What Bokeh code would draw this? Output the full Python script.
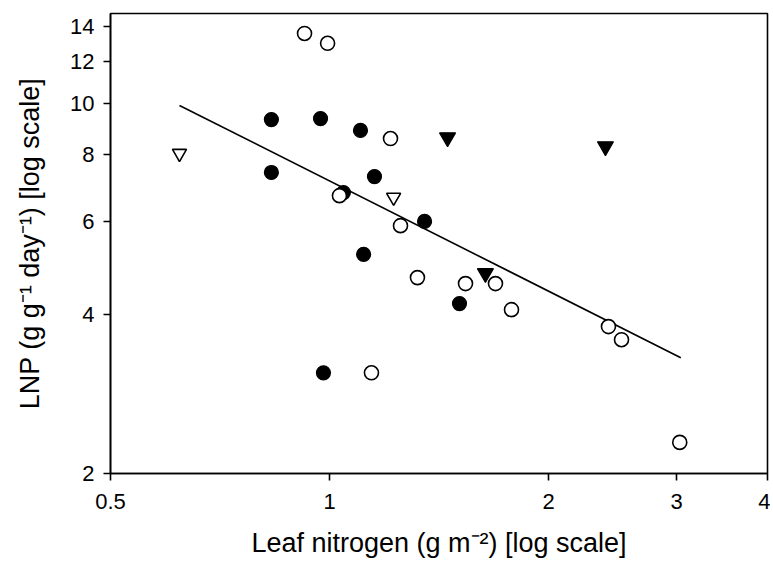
from bokeh.plotting import figure
from bokeh.models import Range1d, FixedTicker
from bokeh.embed import file_html
from bokeh.resources import INLINE

# ---- data ----
x_ticks = [0.5, 1, 2, 3, 4]
x_tick_labels = ["0.5", "1", "2", "3", "4"]
y_ticks = [2, 4, 6, 8, 10, 12, 14]
y_tick_labels = ["2", "4", "6", "8", "10", "12", "14"]

# open circles
oc_n = [0.924, 0.994, 1.213, 1.032, 1.252, 1.321, 1.538, 1.691, 1.779, 2.418, 2.52, 1.142, 3.03]
oc_lnp = [13.57, 13.0, 8.59, 6.70, 5.88, 4.69, 4.57, 4.57, 4.08, 3.79, 3.58, 3.10, 2.29]
# filled circles
fc_n = [0.832, 0.972, 1.103, 0.832, 1.153, 1.045, 1.351, 1.114, 1.509, 0.981]
fc_lnp = [9.33, 9.37, 8.90, 7.41, 7.28, 6.79, 5.99, 5.19, 4.19, 3.10]
# open down-triangles
ot_n = [0.622, 1.225]
ot_lnp = [8.05, 6.65]
# filled down-triangles
ft_n = [1.453, 2.395, 1.638]
ft_lnp = [8.63, 8.30, 4.78]
# regression line end points
fit_n = [0.622, 3.04]
fit_lnp = [9.92, 3.31]

x_title = "Leaf nitrogen (g m\u207b\u00b2) [log scale]"
y_title = "LNP (g g\u207b\u00b9 day\u207b\u00b9) [log scale]"

FONT = "Liberation Sans"

p = figure(width=770, height=560, x_axis_type="log", y_axis_type="log",
           x_range=Range1d(0.5, 4), y_range=Range1d(2, 14.8),
           output_backend="svg", toolbar_location=None,
           min_border_left=110, min_border_right=3,
           min_border_top=13, min_border_bottom=87)

p.grid.visible = False
p.outline_line_color = "black"
p.outline_line_width = 1.6
p.background_fill_color = "white"
p.border_fill_color = "white"

p.xaxis.ticker = FixedTicker(ticks=x_ticks)
p.yaxis.ticker = FixedTicker(ticks=y_ticks)
p.xaxis.major_label_overrides = {t: l for t, l in zip(x_ticks, x_tick_labels)}
p.yaxis.major_label_overrides = {t: l for t, l in zip(y_ticks, y_tick_labels)}

for ax in (p.xaxis, p.yaxis):
    ax.axis_line_color = "black"
    ax.axis_line_width = 1.6
    ax.major_tick_line_color = "black"
    ax.major_tick_line_width = 1.6
    ax.major_tick_in = 0
    ax.major_tick_out = 7
    ax.minor_tick_line_color = None
    ax.major_label_text_font = FONT
    ax.major_label_text_font_size = "22px"
    ax.major_label_text_color = "black"
    ax.axis_label_text_font = FONT
    ax.axis_label_text_font_size = "27px"
    ax.axis_label_text_font_style = "normal"
    ax.axis_label_text_color = "black"

p.xaxis.major_label_standoff = 13
p.yaxis.major_label_standoff = 9
p.xaxis.axis_label = x_title
p.xaxis.axis_label_standoff = 16
p.yaxis.axis_label = y_title
p.yaxis.axis_label_standoff = 22

# regression line
p.line(fit_n, fit_lnp, line_color="black", line_width=1.6)

# markers
p.scatter(fc_n, fc_lnp, marker="circle", size=14, fill_color="black", line_color="black", line_width=1.2)
p.scatter(ft_n, ft_lnp, marker="inverted_triangle", size=16, fill_color="black", line_color="black", line_width=1.2)
p.scatter(ot_n, ot_lnp, marker="inverted_triangle", size=14, fill_color="white", line_color="black", line_width=1.6)
p.scatter(oc_n, oc_lnp, marker="circle", size=14, fill_color="white", line_color="black", line_width=1.6)

open("out.html", "w").write(file_html(p, INLINE))
